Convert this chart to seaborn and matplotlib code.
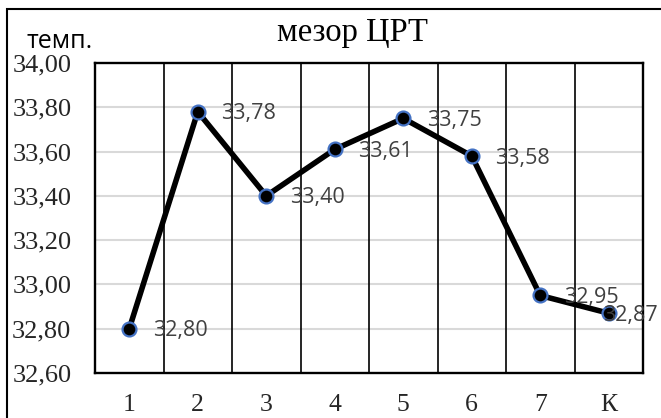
import matplotlib
matplotlib.use("Agg")
import matplotlib.pyplot as plt
import seaborn as sns
import pandas as pd
from matplotlib.patches import Rectangle

categories = ["1", "2", "3", "4", "5", "6", "7", "К"]
values = [32.80, 33.78, 33.40, 33.61, 33.75, 33.58, 32.95, 32.87]
value_labels = ["32,80", "33,78", "33,40", "33,61", "33,75", "33,58", "32,95", "32,87"]
y_ticks = [32.60, 32.80, 33.00, 33.20, 33.40, 33.60, 33.80, 34.00]
y_tick_labels = ["32,60", "32,80", "33,00", "33,20", "33,40", "33,60", "33,80", "34,00"]
title = "мезор ЦРТ"
y_label = "темп."

sns.set_theme(style="white")
plt.rcParams["font.family"] = ["Liberation Serif", "DejaVu Serif"]

W, H = 661, 418
fig = plt.figure(figsize=(W / 100, H / 100), dpi=100)
ax = fig.add_axes([95 / W, 1 - 373 / H, (643 - 95) / W, (373 - 63) / H])

df = pd.DataFrame({"cat": categories, "val": values})
df["pos"] = range(len(categories))
sns.lineplot(data=df, x="pos", y="val", ax=ax, color="black", linewidth=4.0,
             marker="o", markersize=10, markerfacecolor="black",
             markeredgecolor="#4472C4", markeredgewidth=1.6, zorder=5)

ax.set_xlim(-0.5, len(categories) - 0.5)
ax.set_ylim(32.60, 34.00)
ax.set_yticks(y_ticks)
ax.set_yticklabels(y_tick_labels, fontsize=19)
ax.set_xticks(range(len(categories)))
ax.set_xticklabels(categories, fontsize=18.5)
ax.tick_params(axis="y", length=0, pad=17)
ax.tick_params(axis="x", length=0, pad=15)
ax.set_xlabel("")
ax.set_ylabel("")

# horizontal light gridlines
for yv in y_ticks[1:-1]:
    ax.axhline(yv, color="#d9d9d9", linewidth=1.5, zorder=0)
# vertical black category separators
for k in range(1, len(categories)):
    ax.axvline(k - 0.5, color="black", linewidth=1.2, zorder=1)

for s in ax.spines.values():
    s.set_visible(True)
    s.set_color("black")
    s.set_linewidth(1.7)

offsets = [17, 17, 17, 17, 17, 17, 17, -4]
for i, (v, lab) in enumerate(zip(values, value_labels)):
    ax.annotate(lab, (i, v), xytext=(offsets[i], -1.5), textcoords="offset points",
                ha="left", va="center", fontsize=15.5, color="#404040",
                family=["Open Sans", "DejaVu Sans"], zorder=6)

fig.text(352 / W, 1 - 33 / H, title, ha="center", va="center", fontsize=23.5,
         color="black")
fig.text(27 / W, 1 - 42 / H, y_label, ha="left", va="center", fontsize=18,
         color="black", family=["Open Sans", "DejaVu Sans"])

fig.patches.append(Rectangle((7 / W, -0.05), 1.2, 1 - 9 / H + 0.05,
                             transform=fig.transFigure, fill=False,
                             edgecolor="black", linewidth=1.5))

fig.savefig("out.png", dpi=100)
